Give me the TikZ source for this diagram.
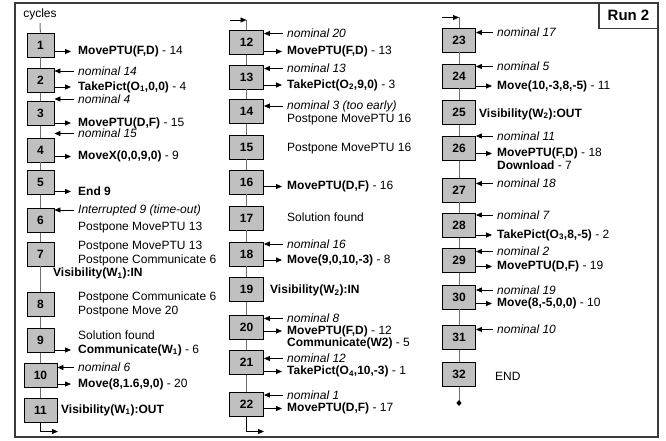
\documentclass[tikz,border=0pt]{standalone}
\usepackage{fontspec}
\setmainfont{Liberation Sans}
\usetikzlibrary{arrows.meta, positioning}
\definecolor{boxgray}{HTML}{C0C0C0}
\definecolor{linegray}{HTML}{6E6E6E}
\definecolor{framegray}{HTML}{3A3A3A}

\begin{document}
\begin{tikzpicture}[x=1pt, y=-1pt, font=\fontsize{12}{13}\selectfont,
  cyc/.style={draw=black, line width=0.9pt, fill=boxgray, minimum width=27pt,
    minimum height=24pt, inner sep=0pt, font=\fontsize{12}{13}\selectfont\bfseries},
  cycw/.style={cyc, minimum width=33pt},
  lbl/.style={anchor=west, inner sep=0pt},
  colline/.style={linegray, line width=1pt},
  tip/.style={-{Triangle[length=6pt, width=5pt]}, line width=0.8pt},
  inarr/.style={tip, shorten <=4pt},
  outarr/.style={tip, shorten >=5pt}]

\useasboundingbox (0,0) rectangle (666,441);

% Frame
\draw[framegray, line width=1.2pt] (15,3) rectangle (658,437);
\node[draw=framegray, line width=1.2pt, anchor=north east, outer sep=0pt,
      minimum width=59pt, minimum height=25.5pt,
      font=\fontsize{15}{16}\selectfont\bfseries] (run) at (658,3) {Run 2};

% =========== Cycle boxes ===========
\node (cycles) at (40,14) {cycles};
\node[cyc]  (c1)  at (40.5,45)    {1};
\node[cyc]  (c2)  at (40.5,80.5)  {2};
\node[cyc]  (c3)  at (40.5,113.5) {3};
\node[cyc]  (c4)  at (40.5,150)   {4};
\node[cyc]  (c5)  at (40.5,182.5) {5};
\node[cyc]  (c6)  at (40.5,220.5) {6};
\node[cyc]  (c7)  at (40.5,254)   {7};
\node[cyc]  (c8)  at (40.5,304.5) {8};
\node[cyc]  (c9)  at (40.5,340.5) {9};
\node[cycw] (c10) at (40.5,375.5) {10};
\node[cycw] (c11) at (40.5,410.5) {11};

\node[cycw, minimum width=34pt] (c12) at (246.5,42.5)  {12};
\node[cycw, minimum width=34pt] (c13) at (246.5,77)    {13};
\node[cycw, minimum width=34pt] (c14) at (246.5,111.5) {14};
\node[cycw, minimum width=34pt] (c15) at (246.5,147)   {15};
\node[cycw, minimum width=34pt] (c16) at (246.5,182)   {16};
\node[cycw, minimum width=34pt] (c17) at (246.5,218)   {17};
\node[cycw, minimum width=34pt] (c18) at (246.5,254)   {18};
\node[cycw, minimum width=34pt] (c19) at (246.5,289.5) {19};
\node[cycw, minimum width=34pt] (c20) at (246.5,327.5) {20};
\node[cycw, minimum width=34pt] (c21) at (246.5,362.5) {21};
\node[cycw, minimum width=34pt] (c22) at (246.5,404.5) {22};

\node[cycw] (c23) at (459,40)    {23};
\node[cycw] (c24) at (459,76)    {24};
\node[cycw] (c25) at (459,112.5) {25};
\node[cycw] (c26) at (459,148.5) {26};
\node[cycw] (c27) at (459,190)   {27};
\node[cycw] (c28) at (459,225.5) {28};
\node[cycw] (c29) at (459,260.5) {29};
\node[cycw] (c30) at (459,297)   {30};
\node[cycw] (c31) at (459,337.5) {31};
\node[cycw] (c32) at (459,374.5) {32};

% Column lines
\draw[colline] (cycles) -- (c1);
\foreach \a/\b in {1/2,2/3,3/4,4/5,5/6,6/7,7/8,8/9,9/10,10/11,
                   12/13,13/14,14/15,15/16,16/17,17/18,18/19,19/20,20/21,21/22,
                   23/24,24/25,25/26,26/27,27/28,28/29,29/30,30/31,31/32}
  \draw[colline] (c\a) -- (c\b);

% Entry and exit of each column
\coordinate (mtop) at (230,20);
\draw[tip] (mtop) -- (mtop -| c12);
\draw[colline] (mtop -| c12) -- (c12);
\coordinate (rtop) at (442,17.5);
\draw[tip] (rtop) -- (rtop -| c23);
\draw[colline] (rtop -| c23) -- (c23);
\coordinate (lbot) at (58,431.5);
\draw[tip] (c11) |- (lbot);
\coordinate (mbot) at (264,431.5);
\draw[tip] (c22) |- (mbot);
\coordinate (rend) at (459,403);
\draw[colline] (c32) -- (rend);
\fill (rend) +(0,-3) -- +(2.6,0) -- +(0,3) -- +(-2.6,0) -- cycle;

% =========== Left column texts ===========
\node[lbl] (o1)  at (78,51.5)  {\textbf{MovePTU(F,D)} - 14};
\node[lbl] (i2)  at (78,71)    {\textit{nominal 14}};
\node[lbl] (o2)  at (78,87)    {\textbf{TakePict(O\textsubscript{1},0,0)} - 4};
\node[lbl] (i3)  at (78,99)    {\textit{nominal 4}};
\node[lbl] (o3)  at (78,123)   {\textbf{MovePTU(D,F)} - 15};
\node[lbl] (i4)  at (78,133.5) {\textit{nominal 15}};
\node[lbl] (o4)  at (78,156.5) {\textbf{MoveX(0,0,9,0)} - 9};
\node[lbl] (o5)  at (78,191.5) {\textbf{End 9}};
\node[lbl] (i6)  at (78,210)   {\textit{Interrupted 9 (time-out)}};
\node[lbl] (p6)  at (78,227.5) {Postpone MovePTU 13};
\node[lbl] (p7a) at (78,247)   {Postpone MovePTU 13};
\node[lbl] (p7b) at (78,260.5) {Postpone Communicate 6};
\node[lbl] (v7)  at (53,273.5) {\textbf{Visibility(W\textsubscript{1}):IN}};
\node[lbl] (p8a) at (78,297.5) {Postpone Communicate 6};
\node[lbl] (p8b) at (78,311.5) {Postpone Move 20};
\node[lbl] (p9)  at (78,335)   {Solution found};
\node[lbl] (o9)  at (78,350)   {\textbf{Communicate(W\textsubscript{1})} - 6};
\node[lbl] (i10) at (78,367.5) {\textit{nominal 6}};
\node[lbl] (o10) at (78,384)   {\textbf{Move(8,1.6,9,0)} - 20};
\node[lbl] (v11) at (61,410)   {\textbf{Visibility(W\textsubscript{1}):OUT}};

% =========== Middle column texts ===========
\node[lbl] (i12) at (287,33.5)  {\textit{nominal 20}};
\node[lbl] (o12) at (287,51.5)  {\textbf{MovePTU(F,D)} - 13};
\node[lbl] (i13) at (287,68.5)  {\textit{nominal 13}};
\node[lbl] (o13) at (287,85)    {\textbf{TakePict(O\textsubscript{2},9,0)} - 3};
\node[lbl] (i14) at (287,106)   {\textit{nominal 3 (too early)}};
\node[lbl] (p14) at (287,119.5) {Postpone MovePTU 16};
\node[lbl] (p15) at (287,148.5) {Postpone MovePTU 16};
\node[lbl] (o16) at (287,186.5) {\textbf{MovePTU(D,F)} - 16};
\node[lbl] (p17) at (287,217.5) {Solution found};
\node[lbl] (i18) at (287,244)   {\textit{nominal 16}};
\node[lbl] (o18) at (287,260)   {\textbf{Move(9,0,10,-3)} - 8};
\node[lbl] (v19) at (270,290.5) {\textbf{Visibility(W\textsubscript{2}):IN}};
\node[lbl] (i20) at (287,318.5) {\textit{nominal 8}};
\node[lbl] (o20) at (287,331)   {\textbf{MovePTU(F,D)} - 12};
\node[lbl] (x20) at (287,343)   {\textbf{Communicate(W2)} - 5};
\node[lbl] (i21) at (287,358.5) {\textit{nominal 12}};
\node[lbl] (o21) at (287,371.5) {\textbf{TakePict(O\textsubscript{4},10,-3)} - 1};
\node[lbl] (i22) at (287,395)   {\textit{nominal 1}};
\node[lbl] (o22) at (287,408.5) {\textbf{MovePTU(D,F)} - 17};

% =========== Right column texts ===========
\node[lbl] (i23) at (497,32.5)  {\textit{nominal 17}};
\node[lbl] (i24) at (497,66.5)  {\textit{nominal 5}};
\node[lbl] (o24) at (497,86)    {\textbf{Move(10,-3,8,-5)} - 11};
\node[lbl] (v25) at (479,114)   {\textbf{Visibility(W\textsubscript{2}):OUT}};
\node[lbl] (i26) at (497,136)   {\textit{nominal 11}};
\node[lbl] (o26) at (497,153.5) {\textbf{MovePTU(F,D)} - 18};
\node[lbl] (x26) at (497,165)   {\textbf{Download} - 7};
\node[lbl] (i27) at (497,183.5) {\textit{nominal 18}};
\node[lbl] (i28) at (497,215)   {\textit{nominal 7}};
\node[lbl] (o28) at (497,235)   {\textbf{TakePict(O\textsubscript{3},8,-5)} - 2};
\node[lbl] (i29) at (497,251.5) {\textit{nominal 2}};
\node[lbl] (o29) at (497,266.5) {\textbf{MovePTU(D,F)} - 19};
\node[lbl] (i30) at (497,290)   {\textit{nominal 19}};
\node[lbl] (o30) at (497,303.5) {\textbf{Move(8,-5,0,0)} - 10};
\node[lbl] (i31) at (497,329.5) {\textit{nominal 10}};
\node[lbl] (p32) at (495,376)   {END};

% Arrows: incoming (nominal) and outgoing commands
\foreach \n in {2,3,4,6,10,12,13,14,18,20,21,22,23,24,26,27,28,29,30,31}
  \draw[inarr] (i\n.west) -- (c\n.east |- i\n.west);
\foreach \n in {1,2,3,4,5,9,10}
  \draw[outarr, shorten >=7pt] (c\n.east |- o\n.west) -- (o\n.west);
\foreach \n in {12,13,16,18,20,21,22,24,26,28,29,30}
  \draw[outarr] (c\n.east |- o\n.west) -- (o\n.west);

\end{tikzpicture}
\end{document}
